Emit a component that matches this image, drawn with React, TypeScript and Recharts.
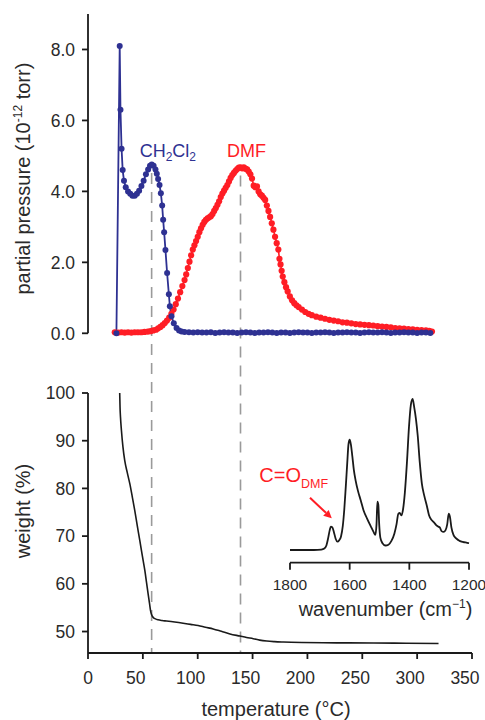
import React from 'react';
import { LineChart, Line, XAxis, YAxis, ReferenceLine, ReferenceDot } from 'recharts';

const FONT = '"Liberation Sans", Arial, Helvetica, sans-serif';
const BLUE = '#2e3192';
const RED = '#ff1d25';
const INK = '#1a1a1a';
const TEXT = '#2a2a2a';
const DASH = '#9a9a9a';

// temperature (°C), partial pressure (10^-12 torr)
const ch2cl2: [number, number][] = [
  [25.9, 0], [28.9, 8.1], [29.6, 6.3], [30.6, 5.2], [31.6, 4.6], [32.8, 4.3], [34.4, 4.12],
  [36.5, 4.0], [38.5, 3.93], [40.5, 3.88], [42.6, 3.88], [44.6, 3.93], [46.6, 4.02], [48.7, 4.15],
  [50.7, 4.3], [52.8, 4.48], [54.8, 4.62], [56.5, 4.72], [58.1, 4.76], [59.8, 4.72], [61.5, 4.62],
  [62.7, 4.5], [63.9, 4.35], [65.2, 4.18], [66.4, 3.95], [67.6, 3.6], [68.5, 3.2], [69.4, 2.85],
  [70.6, 2.35], [72.1, 1.7], [73.7, 1.1], [74.6, 0.76], [76.1, 0.48], [78.2, 0.28], [80.7, 0.15],
  [83, 0.08], [85.3, 0.05], [88, 0.04], [92, 0.03], [96, 0.02], [100, 0.03], [104, 0.02],
  [108, 0.02], [112, 0.03], [116, 0.01], [120, 0.02], [124, 0.03], [128, 0.02], [132, 0.02],
  [136, 0.01], [140, 0.02], [144, 0.03], [148, 0.02], [152, 0.01], [156, 0.02], [160, 0.02],
  [164, 0.03], [168, 0.02], [172, 0.01], [176, 0.02], [180, 0.02], [184, 0.01], [188, 0.02],
  [192, 0.03], [196, 0.02], [200, 0.02], [204, 0.01], [208, 0.02], [212, 0.02], [216, 0.03],
  [220, 0.02], [224, 0.01], [228, 0.02], [232, 0.02], [236, 0.03], [240, 0.02], [244, 0.02],
  [248, 0.01], [252, 0.02], [256, 0.03], [260, 0.02], [264, 0.02], [268, 0.03], [272, 0.02],
  [276, 0.01], [280, 0.02], [284, 0.02], [288, 0.03], [292, 0.02], [296, 0.02], [300, 0.01],
  [304, 0.02], [308, 0.02], [312, 0.01],
];

const dmf: [number, number][] = [
  [24.4, 0.03], [27.5, 0.02], [30.5, 0.03], [33.5, 0.02], [36.5, 0.03], [39.5, 0.02], [42.5, 0.03],
  [45.5, 0.03], [48.5, 0.03], [51.5, 0.04], [54.5, 0.05], [57, 0.06], [59.5, 0.08], [62, 0.1],
  [64, 0.14], [66, 0.18], [68, 0.23], [70, 0.29], [72, 0.36], [74, 0.44], [76, 0.55], [78, 0.67],
  [80, 0.82], [82, 0.98], [84, 1.16], [86, 1.33], [88, 1.5], [89.5, 1.66], [91, 1.84], [92.5, 2.02],
  [94, 2.2], [95.5, 2.36], [97, 2.48], [98.5, 2.6], [100, 2.72], [101.5, 2.85], [103, 2.96],
  [104.5, 3.06], [106, 3.14], [107.5, 3.2], [109, 3.24], [110.5, 3.27], [112, 3.3], [113.5, 3.36],
  [115, 3.45], [116.5, 3.53], [118, 3.62], [119.5, 3.72], [121, 3.84], [122.5, 3.94], [124, 4.02],
  [125.5, 4.1], [127, 4.18], [128.5, 4.28], [130, 4.38], [131.5, 4.46], [133, 4.52], [134.5, 4.58],
  [136, 4.63], [137.5, 4.67], [139, 4.68], [140.5, 4.65], [142, 4.68], [143.5, 4.64], [145, 4.62],
  [146.5, 4.56], [148, 4.48], [149.5, 4.36], [151, 4.16], [152.5, 4.12], [154, 4.14], [155.5, 4.0],
  [157, 3.92], [158.5, 3.88], [160, 3.82], [161.5, 3.76], [163, 3.6], [164.5, 3.45], [166, 3.28],
  [167.5, 3.1], [169, 2.92], [170.5, 2.72], [172, 2.54], [173.5, 2.36], [174.5, 2.1], [175.5, 1.94],
  [176.5, 1.76], [177.5, 1.6], [179, 1.44], [180.5, 1.3], [182, 1.18], [184, 1.04], [186, 0.93],
  [188, 0.85], [190, 0.79], [192, 0.74], [195, 0.67], [198, 0.6], [201, 0.55], [204, 0.51],
  [208, 0.47], [212, 0.44], [216, 0.41], [220, 0.38], [224, 0.36], [228, 0.34], [232, 0.31],
  [236, 0.3], [240, 0.28], [244, 0.26], [248, 0.25], [252, 0.24], [256, 0.23], [260, 0.22],
  [264, 0.2], [268, 0.19], [272, 0.18], [276, 0.17], [280, 0.15], [284, 0.14], [288, 0.13],
  [292, 0.12], [296, 0.11], [300, 0.1], [304, 0.09], [308, 0.08], [311, 0.07], [313.5, 0.05],
];

// temperature (°C), weight (%)
const tga: [number, number][] = [
  [28.9, 100], [29.2, 97], [29.6, 95], [30.5, 92.1], [31.8, 88.8], [33.5, 85.8], [35.8, 83.3],
  [38.1, 81], [40.4, 78.2], [42.6, 75.4], [44.9, 72.2], [47.2, 69.1], [49.5, 65.9], [51.8, 62.8],
  [53.4, 60.2], [54.8, 57.9], [56, 56], [57, 54.4], [58, 53.5], [59.3, 53], [61.5, 52.65],
  [63.9, 52.45], [67.5, 52.3], [71.6, 52.2], [79, 52.0], [86.7, 51.75], [93.5, 51.5],
  [100.4, 51.25], [107, 50.9], [114.1, 50.55], [121.5, 50.05], [129.4, 49.5], [138.5, 49.05],
  [144.5, 48.75], [150.6, 48.5], [156.5, 48.2], [162.9, 48], [170, 47.88], [178, 47.8],
  [195, 47.7], [214.5, 47.65], [237, 47.62], [260.2, 47.6], [290, 47.55], [319.5, 47.5],
];

// wavenumber (cm-1), absorbance (a.u.)
const ir: [number, number][] = [
  [1800, 0], [1760, 0], [1720, 0], [1695, 0.003], [1685, 0.01], [1678, 0.03], [1672, 0.08],
  [1667, 0.13], [1663, 0.155], [1658, 0.15], [1653, 0.12], [1647, 0.075], [1641, 0.055],
  [1635, 0.065], [1629, 0.09], [1623, 0.16], [1618, 0.27], [1613, 0.42], [1608, 0.58],
  [1604, 0.7], [1600, 0.73], [1596, 0.7], [1591, 0.62], [1586, 0.53], [1580, 0.46], [1572, 0.39],
  [1563, 0.33], [1553, 0.26], [1542, 0.21], [1530, 0.16], [1520, 0.12], [1514, 0.1], [1510, 0.17],
  [1507, 0.32], [1504, 0.3], [1501, 0.17], [1497, 0.08], [1490, 0.045], [1480, 0.03],
  [1470, 0.035], [1460, 0.06], [1450, 0.11], [1443, 0.17], [1437, 0.24], [1432, 0.245],
  [1427, 0.23], [1421, 0.27], [1415, 0.38], [1408, 0.58], [1401, 0.82], [1395, 0.96],
  [1389, 1.0], [1384, 0.95], [1378, 0.87], [1372, 0.76], [1365, 0.58], [1358, 0.44],
  [1350, 0.36], [1341, 0.29], [1334, 0.23], [1326, 0.2], [1321, 0.19], [1316, 0.18],
  [1310, 0.165], [1303, 0.155], [1298, 0.15], [1292, 0.125], [1285, 0.12], [1279, 0.13],
  [1273, 0.17], [1268, 0.24], [1264, 0.22], [1259, 0.15], [1252, 0.1], [1245, 0.08],
  [1235, 0.065], [1225, 0.055], [1212, 0.05], [1200, 0.045],
];

const tempTicks = [0, 50, 100, 150, 200, 250, 300, 350];
const pressureTicks = [0, 2, 4, 6, 8];
const weightTicks = [50, 60, 70, 80, 90, 100];
const waveTicks = [1200, 1400, 1600, 1800];
// desorption maxima marked by the dashed guides: [temperature, pressure where the guide starts]
const peakGuides: [number, number][] = [[58, 4.52], [139, 4.45]];

const rows = (pts: [number, number][]) => pts.map(([x, y]) => ({ x, y }));

const axisLine = { stroke: INK, strokeWidth: 1.8 };
const tickStyle = { fontSize: 17.5, fill: TEXT, fontFamily: FONT };

const TempTick = (props: any) => {
  const { x, y, payload } = props;
  const shift = payload.value === 0 ? 0 : -7;
  return (
    <text x={x + shift} y={y} dy="0.71em" textAnchor="middle" {...tickStyle}>
      {payload.value}
    </text>
  );
};

const Arrow = (p: any) => {
  const { x1, y1, x2, y2 } = p;
  const a = Math.atan2(y2 - y1, x2 - x1);
  const L = 8;
  const W = 4;
  const bx = x2 - L * Math.cos(a);
  const by = y2 - L * Math.sin(a);
  const pts = `${x2},${y2} ${bx - W * Math.sin(a)},${by + W * Math.cos(a)} ${bx + W * Math.sin(a)},${by - W * Math.cos(a)}`;
  return (
    <g>
      <line x1={x1} y1={y1} x2={bx} y2={by} stroke={RED} strokeWidth={2} />
      <polygon points={pts} fill={RED} />
    </g>
  );
};

export default function App() {
  return (
    <div style={{ width: 485, height: 720, padding: '8px 0 0 8px', boxSizing: 'border-box' }}>
      <style>{'body { margin: 0; }'}</style>
      <div style={{ position: 'relative', width: 477, height: 712, fontFamily: FONT }}>
        {/* upper panel: mass spectrometry */}
        <div style={{ position: 'absolute', left: 0, top: 0 }}>
          <LineChart width={477} height={660} margin={{ top: 6, right: 13, bottom: 334.7, left: 20 }}>
            <XAxis type="number" dataKey="x" domain={[0, 350]} hide />
            <YAxis
              type="number"
              domain={[0, 9]}
              ticks={pressureTicks}
              width={60}
              tickFormatter={(v: number) => v.toFixed(1)}
              axisLine={axisLine}
              tickLine={axisLine}
              tickSize={6}
              tickMargin={7}
              tick={tickStyle}
              label={{
                content: ({ viewBox }: any) => (
                  <text
                    transform={`translate(${viewBox.x + 2}, ${viewBox.y + viewBox.height / 2 + 5}) rotate(-90)`}
                    textAnchor="middle"
                    fontSize={20}
                    fill={TEXT}
                    fontFamily={FONT}
                  >
                    partial pressure (10<tspan fontSize={12} dy={-8}>-12</tspan>
                    <tspan dy={8}> torr)</tspan>
                  </text>
                ),
              }}
            />
            {peakGuides.map(([t, p]) => (
              <ReferenceLine
                key={t}
                segment={[{ x: t, y: p }, { x: t, y: -9 }]}
                ifOverflow="visible"
                stroke={DASH}
                strokeWidth={1.6}
                strokeDasharray="11 8"
              />
            ))}
            <Line
              data={rows(dmf)}
              dataKey="y"
              stroke={RED}
              strokeWidth={1.6}
              dot={{ r: 3.1, fill: RED, stroke: RED, strokeWidth: 0 }}
              isAnimationActive={false}
            />
            <Line
              data={rows(ch2cl2)}
              dataKey="y"
              stroke={BLUE}
              strokeWidth={1.8}
              dot={{ r: 3, fill: BLUE, stroke: BLUE, strokeWidth: 0 }}
              isAnimationActive={false}
            />
            <ReferenceDot
              x={72.8}
              y={4.97}
              r={0}
              ifOverflow="visible"
              shape={(p: any) => (
                <text x={p.cx} y={p.cy} textAnchor="middle" fill={BLUE} fontSize={18} fontFamily={FONT}>
                  CH<tspan fontSize={12} dy={4}>2</tspan>
                  <tspan dy={-4}>Cl</tspan>
                  <tspan fontSize={12} dy={4}>2</tspan>
                </text>
              )}
            />
            <ReferenceDot
              x={144.4}
              y={4.97}
              r={0}
              ifOverflow="visible"
              shape={(p: any) => (
                <text x={p.cx} y={p.cy} textAnchor="middle" fill={RED} fontSize={18} fontFamily={FONT}>
                  DMF
                </text>
              )}
            />
          </LineChart>
        </div>

        {/* lower panel: thermogravimetry */}
        <div style={{ position: 'absolute', left: 0, top: 0 }}>
          <LineChart width={477} height={712} margin={{ top: 385, right: 13, bottom: 27, left: 20 }}>
            <XAxis
              type="number"
              dataKey="x"
              domain={[0, 350]}
              ticks={tempTicks}
              interval={0}
              height={40}
              axisLine={axisLine}
              tickLine={axisLine}
              tickSize={6}
              tickMargin={13}
              tick={<TempTick />}
              label={{
                content: ({ viewBox }: any) => (
                  <text
                    x={viewBox.x + viewBox.width / 2 - 4}
                    y={708}
                    textAnchor="middle"
                    fontSize={20}
                    fill={TEXT}
                    fontFamily={FONT}
                  >
                    temperature (°C)
                  </text>
                ),
              }}
            />
            <YAxis
              type="number"
              domain={[45.5, 100]}
              ticks={weightTicks}
              width={60}
              axisLine={axisLine}
              tickLine={axisLine}
              tickSize={6}
              tickMargin={7}
              tick={tickStyle}
              label={{
                content: ({ viewBox }: any) => (
                  <text
                    transform={`translate(${viewBox.x + 2}, ${viewBox.y + viewBox.height / 2 - 12}) rotate(-90)`}
                    textAnchor="middle"
                    fontSize={20}
                    fill={TEXT}
                    fontFamily={FONT}
                  >
                    weight (%)
                  </text>
                ),
              }}
            />
            <Line
              data={rows(tga)}
              dataKey="y"
              type="monotone"
              stroke={INK}
              strokeWidth={1.6}
              dot={false}
              isAnimationActive={false}
            />
          </LineChart>
        </div>

        {/* inset: IR spectrum */}
        <div style={{ position: 'absolute', left: 240, top: 360 }}>
          <LineChart width={237} height={270} margin={{ top: 31, right: 16, bottom: 25.3, left: 42 }}>
            <XAxis
              type="number"
              dataKey="x"
              domain={[1200, 1800]}
              reversed
              ticks={waveTicks}
              interval={0}
              height={50}
              axisLine={axisLine}
              tickLine={axisLine}
              tickSize={7}
              tickMargin={9}
              tick={{ ...tickStyle, fontSize: 15.5 }}
              label={{
                content: ({ viewBox }: any) => (
                  <text
                    x={viewBox.x + viewBox.width / 2 + 6}
                    y={248}
                    textAnchor="middle"
                    fontSize={20}
                    fill={TEXT}
                    fontFamily={FONT}
                  >
                    wavenumber (cm<tspan fontSize={12} dy={-8}>−1</tspan>
                    <tspan dy={8}>)</tspan>
                  </text>
                ),
              }}
            />
            <YAxis type="number" domain={[-0.084, 1]} hide />
            <Line
              data={rows(ir)}
              dataKey="y"
              type="monotone"
              stroke={INK}
              strokeWidth={1.8}
              dot={false}
              isAnimationActive={false}
            />
            <ReferenceLine
              segment={[{ x: 1733, y: 0.346 }, { x: 1660, y: 0.21 }]}
              ifOverflow="visible"
              shape={Arrow}
            />
            <ReferenceDot
              x={1903}
              y={0.45}
              r={0}
              ifOverflow="visible"
              shape={(p: any) => (
                <text x={p.cx} y={p.cy} textAnchor="start" fill={RED} fontSize={20} fontFamily={FONT}>
                  C=O<tspan fontSize={12.5} dy={6}>DMF</tspan>
                </text>
              )}
            />
          </LineChart>
        </div>
      </div>
    </div>
  );
}
